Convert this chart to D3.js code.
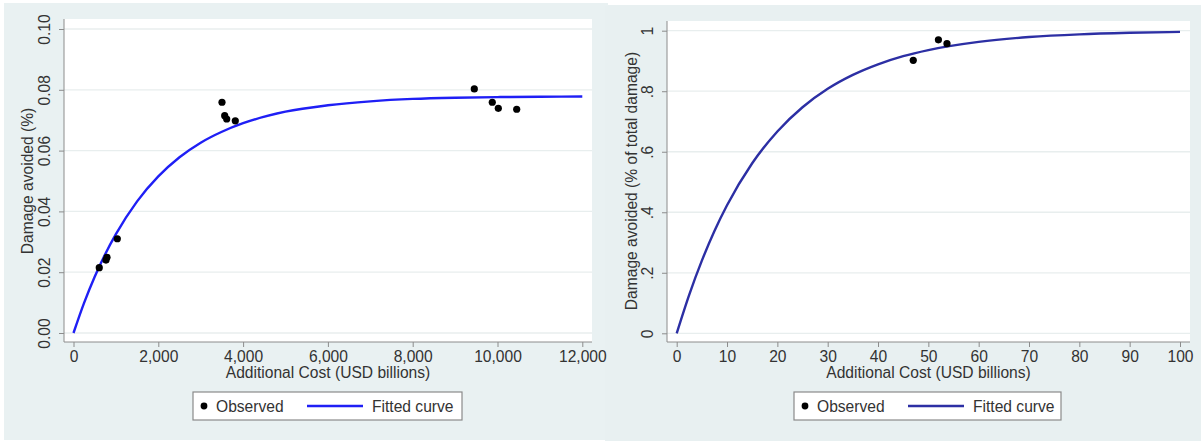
<!DOCTYPE html>
<html>
<head>
<meta charset="utf-8">
<script src="https://cdn.jsdelivr.net/npm/d3@7"></script>
<style>
  body { margin: 0; background: #ffffff; }
  svg { display: block; font-family: "Liberation Sans", Arial, sans-serif; }
</style>
</head>
<body>
<div id="chart"></div>
<script>
// Left panel data (USD billions vs share of damage avoided)
const leftObsCost = [608, 766, 790, 1033, 3502, 3566, 3613, 3816, 9453, 9877, 10019, 10453]
const leftObsDamage = [0.0215, 0.0240, 0.0249, 0.0310, 0.0759, 0.0715, 0.0704, 0.0698, 0.0803, 0.0759, 0.0739, 0.0736]
const leftFitCost = [0, 250, 500, 750, 1000, 1500, 2000, 2500, 3000, 3500, 4000, 5000, 6000, 7000, 8000, 9000, 10000, 11000, 12000]
const leftFitDamage = [0, 0.0099, 0.0185, 0.0260, 0.0325, 0.0433, 0.0515, 0.0578, 0.0626, 0.0662, 0.0690, 0.0728, 0.0749, 0.0762, 0.0770, 0.0774, 0.0776, 0.0777, 0.0778]
const leftXTicks = [0, 2000, 4000, 6000, 8000, 10000, 12000]
const leftYTicks = [0, 0.02, 0.04, 0.06, 0.08, 0.10]

// Right panel data
const rightObsCost = [47.0, 52.0, 53.7]
const rightObsDamage = [0.902, 0.970, 0.957]
const rightFitCost = [0, 2.5, 5, 7.5, 10, 15, 20, 25, 30, 35, 40, 45, 50, 60, 70, 80, 90, 100]
const rightFitDamage = [0, 0.128, 0.240, 0.338, 0.423, 0.562, 0.667, 0.747, 0.808, 0.854, 0.889, 0.916, 0.936, 0.963, 0.979, 0.988, 0.993, 0.996]
const rightXTicks = [0, 10, 20, 30, 40, 50, 60, 70, 80, 90, 100]
const rightYTicks = [0, 0.2, 0.4, 0.6, 0.8, 1]

const legendLabels = ["Observed", "Fitted curve"]

const svg = d3.select("#chart")
	.append("svg")
	.attr("width", 1201)
	.attr("height", 441)

const bgColor = "#e9f1f2"
const textColor = "#333333"
const axisColor = "#8c8c8c"
const fontSize = "15.6px"

// panel backgrounds (two stitched Stata graphs)
svg.append("rect").attr("x", 4).attr("y", 3).attr("width", 601).attr("height", 437).attr("fill", bgColor)
svg.append("rect").attr("x", 605).attr("y", 5).attr("width", 596).attr("height", 436).attr("fill", "#e8f0f1")
svg.append("rect").attr("x", 600).attr("y", 3).attr("width", 8).attr("height", 3).attr("fill", bgColor)

/**
 * Draws one Stata-like scatter + fitted curve panel
 */
function drawPanel(p) {
	const g = svg.append("g")

	const xScale = d3.scaleLinear().domain(p.xDomain).range(p.xRange)
	const yScale = d3.scaleLinear().domain(p.yDomain).range(p.yRange)

	// plot region
	g.append("rect")
		.attr("x", p.box[0])
		.attr("y", p.box[1])
		.attr("width", p.box[2] - p.box[0])
		.attr("height", p.box[3] - p.box[1])
		.attr("fill", "#ffffff")

	// grid lines
	g.append("g").selectAll("line")
		.data(p.yTicks)
		.join("line")
		.attr("x1", p.box[0])
		.attr("x2", p.box[2])
		.attr("y1", (d) => yScale(d))
		.attr("y2", (d) => yScale(d))
		.attr("stroke", "#e8eeee")
		.attr("stroke-width", 1.3)

	// y axis
	const yAxis = d3.axisLeft(yScale)
		.tickValues(p.yTicks)
		.tickSize(5)
		.tickPadding(4)
		.tickFormat(p.yFormat)
	const yAxisGroup = g.append("g")
		.attr("transform", `translate(${p.box[0]},0)`)
		.call(yAxis)
	yAxisGroup.select(".domain")
		.attr("d", `M0,${p.box[1]}V${p.box[3]}`)
		.attr("stroke", axisColor)
	yAxisGroup.selectAll(".tick line").attr("stroke", axisColor)
	yAxisGroup.selectAll(".tick text")
		.attr("font-size", fontSize)
		.attr("fill", textColor)
		.attr("text-anchor", "middle")
		.attr("x", null)
		.attr("dy", null)
		.attr("transform", "translate(-14,0) rotate(-90)")
		.attr("y", 0)

	// x axis
	const xAxis = d3.axisBottom(xScale)
		.tickValues(p.xTicks)
		.tickSize(5)
		.tickPadding(4)
		.tickFormat(p.xFormat)
	const xAxisGroup = g.append("g")
		.attr("transform", `translate(0,${p.box[3]})`)
		.call(xAxis)
	xAxisGroup.select(".domain")
		.attr("d", `M${p.box[0]},0H${p.box[2]}`)
		.attr("stroke", axisColor)
	xAxisGroup.selectAll(".tick line").attr("stroke", axisColor)
	xAxisGroup.selectAll(".tick text")
		.attr("font-size", fontSize)
		.attr("fill", textColor)

	// axis titles
	g.append("text")
		.attr("x", (p.box[0] + p.box[2]) / 2)
		.attr("y", 378)
		.attr("font-size", fontSize)
		.attr("text-anchor", "middle")
		.attr("fill", textColor)
		.text("Additional Cost (USD billions)")

	g.append("text")
		.attr("transform", `translate(${p.yTitleX},181) rotate(-90)`)
		.attr("font-size", fontSize)
		.attr("text-anchor", "middle")
		.attr("fill", textColor)
		.text(p.yTitle)

	// fitted curve
	const fit = p.fitCost.map((c, i) => [c, p.fitDamage[i]])
	g.append("path")
		.datum(fit)
		.attr("fill", "none")
		.attr("stroke", p.lineColor)
		.attr("stroke-width", 2.4)
		.attr("d", d3.line()
			.x((d) => xScale(d[0]))
			.y((d) => yScale(d[1]))
			.curve(d3.curveMonotoneX))

	// observed points
	const obs = p.obsCost.map((c, i) => [c, p.obsDamage[i]])
	g.append("g").selectAll("circle")
		.data(obs)
		.join("circle")
		.attr("cx", (d) => xScale(d[0]))
		.attr("cy", (d) => yScale(d[1]))
		.attr("r", 3.6)
		.attr("fill", "#000000")

	// legend
	const lg = g.append("g")
	lg.append("rect")
		.attr("x", p.legend[0])
		.attr("y", 392)
		.attr("width", p.legend[1] - p.legend[0])
		.attr("height", 28)
		.attr("fill", "#ffffff")
		.attr("stroke", "#8a8a8a")
		.attr("stroke-width", 1.2)
	lg.append("circle")
		.attr("cx", p.legend[0] + 11)
		.attr("cy", 406)
		.attr("r", 3.4)
		.attr("fill", "#000000")
	lg.append("text")
		.attr("x", p.legend[0] + 23)
		.attr("y", 411.5)
		.attr("font-size", fontSize)
		.attr("fill", textColor)
		.text(legendLabels[0])
	lg.append("line")
		.attr("x1", p.legend[0] + 114)
		.attr("x2", p.legend[0] + 170)
		.attr("y1", 406)
		.attr("y2", 406)
		.attr("stroke", p.lineColor)
		.attr("stroke-width", 2.4)
	lg.append("text")
		.attr("x", p.legend[0] + 179)
		.attr("y", 411.5)
		.attr("font-size", fontSize)
		.attr("fill", textColor)
		.text(legendLabels[1])
}

drawPanel({
	xDomain: [0, 12000], xRange: [73.5, 582.3],
	yDomain: [0, 0.1], yRange: [333, 29],
	box: [64, 19, 592, 342],
	xTicks: leftXTicks, yTicks: leftYTicks,
	xFormat: d3.format(",d"), yFormat: d3.format(".2f"),
	yTitle: "Damage avoided (%)", yTitleX: 33,
	fitCost: leftFitCost, fitDamage: leftFitDamage,
	obsCost: leftObsCost, obsDamage: leftObsDamage,
	lineColor: "#1f1ff5",
	legend: [193, 462]
})

drawPanel({
	xDomain: [0, 100], xRange: [676.7, 1180],
	yDomain: [0, 1], yRange: [333.3, 30.7],
	box: [667, 21, 1190, 342],
	xTicks: rightXTicks, yTicks: rightYTicks,
	xFormat: d3.format("d"), yFormat: (d) => d === 0 || d === 1 ? String(d) : String(d).replace(/^0/, ""),
	yTitle: "Damage avoided (% of total damage)", yTitleX: 637,
	fitCost: rightFitCost, fitDamage: rightFitDamage,
	obsCost: rightObsCost, obsDamage: rightObsDamage,
	lineColor: "#2c2fa4",
	legend: [794, 1061]
})
</script>
</body>
</html>
